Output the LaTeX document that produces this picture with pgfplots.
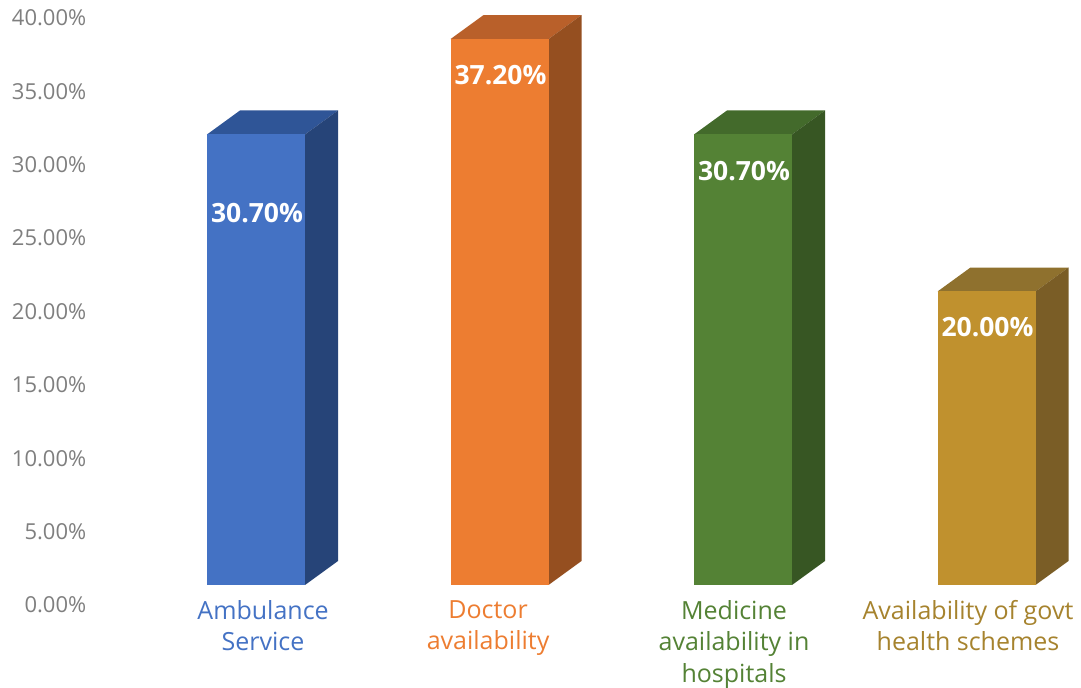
\documentclass[border=0pt]{standalone}
\usepackage{pgfplots}
\pgfplotsset{compat=1.18}
\usepackage{pgfplotstable}
\usepackage{fontspec}
\setmainfont{Open Sans}

% front / top / side shades for each bar
\definecolor{front0}{HTML}{4472C4}\definecolor{top0}{HTML}{2F5597}\definecolor{side0}{HTML}{264478}
\definecolor{front1}{HTML}{ED7D31}\definecolor{top1}{HTML}{B9602A}\definecolor{side1}{HTML}{954F20}
\definecolor{front2}{HTML}{548235}\definecolor{top2}{HTML}{436A2B}\definecolor{side2}{HTML}{375623}
\definecolor{front3}{HTML}{C0912E}\definecolor{top3}{HTML}{8F712E}\definecolor{side3}{HTML}{7A5D26}
\definecolor{lab3}{HTML}{A6832E}
\definecolor{tickgray}{HTML}{7F7F7F}

% x = category position, v = share in %, off = label offset below bar top (bp)
\pgfplotstableread{
x v off
0 30.7 -78.5
1 37.2 -35.5
2 30.7 -36.5
3 20.0 -35.5
}\bars

\def\bw{0.4025}  % bar width (axis units)
\def\bdx{0.1355} % depth, x
\def\bdy{1.635}  % depth, y

\pgfplotsset{
  value label/.style={
    nodes near coords={\pgfmathprintnumber[fixed,fixed zerofill,precision=2]{\pgfplotspointmeta}\%},
    nodes near coords style={font=\fontsize{26.5bp}{30bp}\selectfont\bfseries, text=white,
      anchor=center, inner sep=0pt, xshift=1bp, yshift=#1}},
}

\newcommand\drawcube[1]{%
  \pgfplotstablegetelem{#1}{x}\of\bars \let\cx\pgfplotsretval
  \pgfplotstablegetelem{#1}{v}\of\bars \let\cv\pgfplotsretval
  \pgfplotstablegetelem{#1}{off}\of\bars \let\coff\pgfplotsretval
  \pgfmathsetmacro\xl{\cx-\bw/2}%
  \pgfmathsetmacro\xr{\cx+\bw/2}%
  \pgfmathsetmacro\xlb{\xl+\bdx}%
  \pgfmathsetmacro\xrb{\xr+\bdx}%
  \pgfmathsetmacro\vb{\cv+\bdy}%
  \edef\doit{%
    \noexpand\addplot[fill=top#1, draw=none, mark=none] coordinates {(\xl,\cv) (\xr,\cv) (\xrb,\vb) (\xlb,\vb)};
    \noexpand\addplot[fill=side#1, draw=none, mark=none] coordinates {(\xr,0) (\xrb,\bdy) (\xrb,\vb) (\xr,\cv)};
    \noexpand\addplot[ybar, bar width=\bw, bar shift=0pt, fill=front#1, draw=none, value label=\coff bp] coordinates {(\cx,\cv)};
  }%
  \doit
}

\begin{document}
\begin{tikzpicture}
\useasboundingbox (0,0) rectangle (1081bp,688bp);
\begin{axis}[
  at={(256bp,103bp)}, anchor=origin,
  x=243.5bp, y=14.675bp,
  xmin=-0.68, xmax=3.35, ymin=0, ymax=40,
  clip=false,
  axis line style={draw=none},
  major tick length=0pt,
  tick style={draw=none},
  /pgf/number format/assume math mode=true,
  ytick={0,5,...,40},
  yticklabel={\pgfmathprintnumber[fixed,fixed zerofill,precision=2]{\tick}\%},
  yticklabel style={font=\fontsize{22bp}{26bp}\selectfont, text=tickgray,
    anchor=east, inner sep=0pt, xshift=-4bp, yshift=-20bp},
  xtick={0.029,0.953,1.963,2.924},
  xticklabels={
    {\textcolor{front0}{Ambulance}\\\textcolor{front0}{Service}},
    {\textcolor{front1}{Doctor}\\\textcolor{front1}{availability}},
    {\textcolor{front2}{Medicine}\\\textcolor{front2}{availability in}\\\textcolor{front2}{hospitals}},
    {\textcolor{lab3}{Availability of govt}\\\textcolor{lab3}{health schemes}}},
  xticklabel style={font=\fontsize{25bp}{31.5bp}\selectfont, align=center,
    anchor=north, inner sep=0pt, yshift=-15bp},
]
\drawcube{0}
\drawcube{1}
\drawcube{2}
\drawcube{3}
\end{axis}
\end{tikzpicture}
\end{document}
